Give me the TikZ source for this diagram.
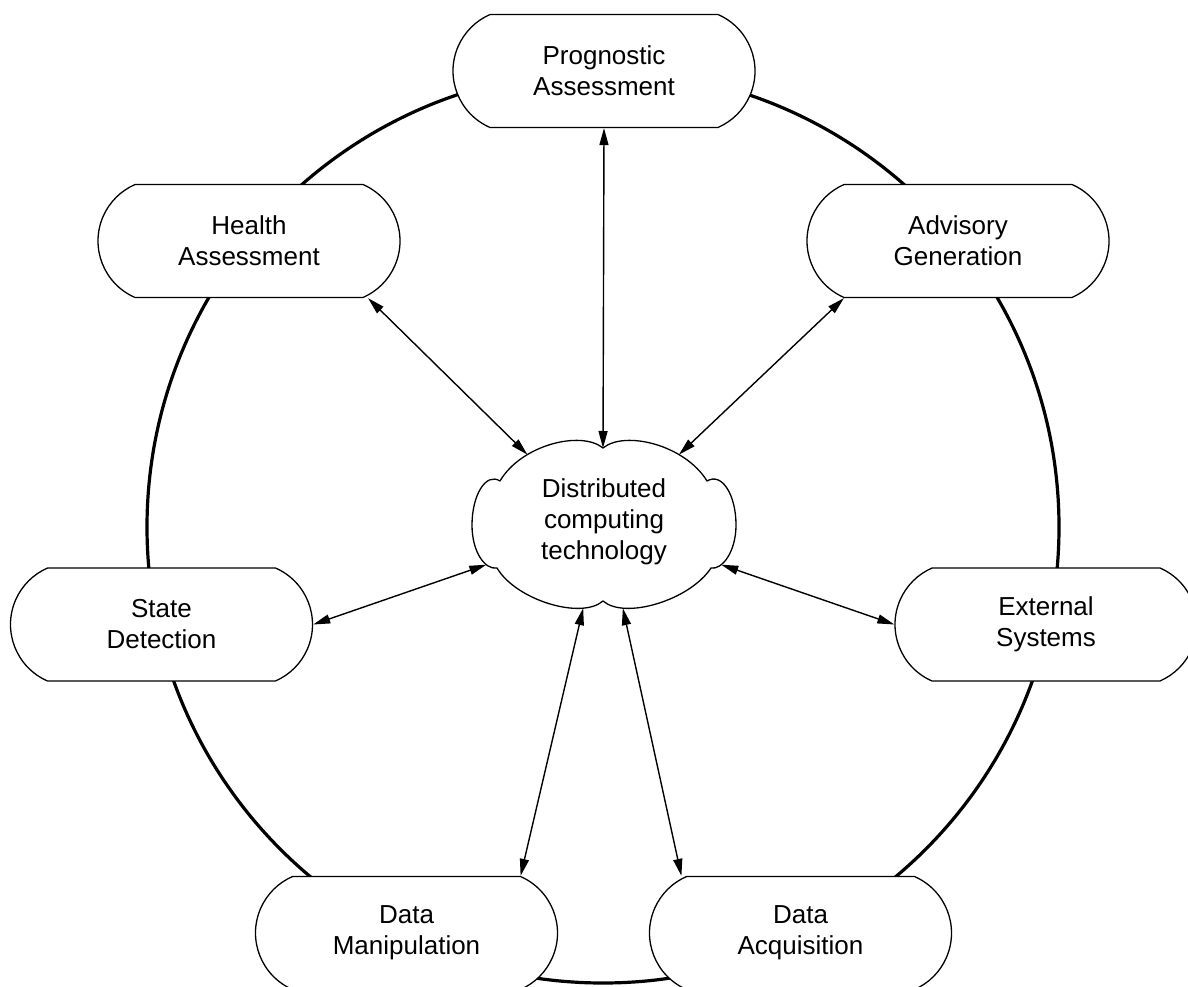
\documentclass[tikz,border=0pt]{standalone}
\usepackage{fontspec}
\setmainfont{Liberation Sans}
\usetikzlibrary{shapes.misc,arrows.meta}
\begin{document}
\begin{tikzpicture}[x=1pt,y=-1pt,
  box/.style={rounded rectangle, rounded rectangle arc length=133, draw, line width=1.3pt, fill=white,
    minimum width=302pt, minimum height=113pt, inner sep=0pt, align=center,
    font=\fontsize{26}{31}\selectfont},
  cloudtext/.style={inner sep=0pt, align=center, font=\fontsize{26}{31}\selectfont},
  cloudline/.style={line width=1.3pt, fill=white, line join=round},
  ring/.style={line width=3.2pt},
  link/.style={line width=1.4pt, {Triangle[length=17pt,width=9pt]}-{Triangle[length=17pt,width=9pt]}}]
\useasboundingbox (0,0) rectangle (1188,987);
\coordinate (c0) at (603,527);
\draw[ring] (c0) circle[radius=456];
\node[box] (prog) at (604,71) {Prognostic\\Assessment};
\node[box] (health) at (249,241) {Health\\Assessment};
\node[box] (adv) at (958,241) {Advisory\\Generation};
\node[box] (state) at (161.5,624.5) {State\\Detection};
\node[box] (ext) at (1046,624.5) {External\\Systems};
\node[box] (dm) at (406.5,933) {Data\\Manipulation};
\node[box] (da) at (800.5,933) {Data\\Acquisition};
% cloud outline
\draw[cloudline] (603,448) coordinate (ctop)
  .. controls (625,430) and (685,445) .. coordinate[pos=0.7] (cadv) (707,481)
  .. controls (722,472) and (736,495) .. (736,525)
  .. controls (736,552) and (722,570) .. coordinate[pos=0.7] (cext) (711,568)
  .. controls (690,600) and (625,620) .. coordinate[pos=0.78] (cda) (603,601)
  .. controls (581,620) and (516,600) .. coordinate[pos=0.22] (cdm) (497,568)
  .. controls (485,570) and (472,552) .. coordinate[pos=0.3] (cstate) (472,525)
  .. controls (472,495) and (486,472) .. (500,481)
  .. controls (521,445) and (581,430) .. coordinate[pos=0.3] (chealth) (ctop) -- cycle;
\node[cloudtext] (cloud) at (604,522) {Distributed\\computing\\technology};
\draw[link] (prog.south) -- (ctop);
\draw[link] ([xshift=5pt]health.south east) -- (chealth);
\draw[link] (adv.south west) -- (cadv);
\draw[link] (state.east) -- (cstate);
\draw[link] (ext.west) -- (cext);
\draw[link] (dm.north east) -- (cdm);
\draw[link] ([xshift=-5pt]da.north west) -- (cda);
\end{tikzpicture}
\end{document}
